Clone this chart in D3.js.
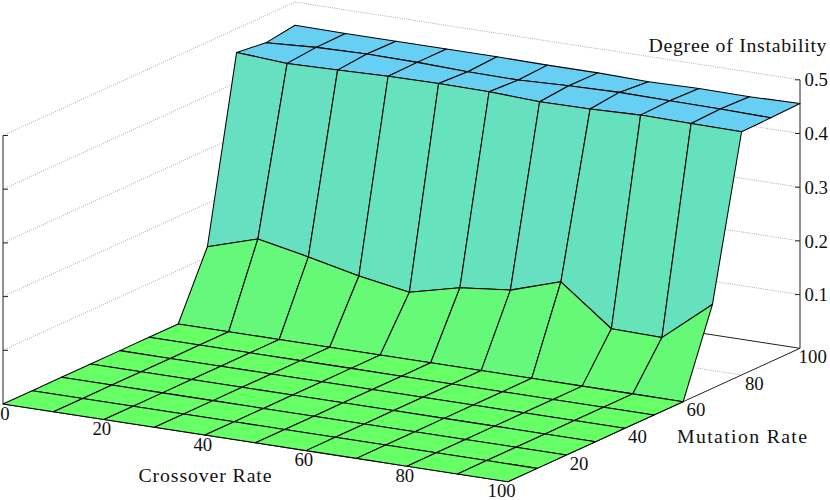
<!DOCTYPE html>
<html>
<head>
<meta charset="utf-8">
<style>
  body { margin: 0; background: #fff; }
  svg { display: block; }
  text { font-family: "Liberation Serif", serif; font-size: 18.8px; fill: #111; }
  text.title { font-size: 19.8px; }
</style>
<script src="https://cdn.jsdelivr.net/npm/d3@7"></script>
</head>
<body>
<div id="graph"></div>
<script>
const crossoverRates = [0, 10, 20, 30, 40, 50, 60, 70, 80, 90, 100];
const mutationRates = [0, 10, 20, 30, 40, 50, 60, 70, 80, 90, 100];

// one row per mutation rate
const row0 = [0, 0, 0, 0, 0, 0, 0, 0, 0, 0, 0];
const row10 = [0, 0, 0, 0, 0, 0, 0, 0, 0, 0, 0];
const row20 = [0, 0, 0, 0, 0, 0, 0, 0, 0, 0, 0];
const row30 = [0, 0, 0, 0, 0, 0, 0, 0, 0, 0, 0];
const row40 = [0, 0, 0, 0, 0, 0, 0, 0, 0, 0, 0];
const row50 = [0, 0, 0, 0, 0, 0, 0, 0, 0, 0, 0];
const row60 = [0, 0, 0, 0, 0, 0, 0, 0, 0, 0, 0];
const row70 = [.119, .148, .129, .108, .092, .115, .125, .155, .082, .080, .156];
const row80 = [.456, .450, .452, .455, .456, .455, .451, .452, .455, .454, .453];
const row90 = [.449, .455, .457, .456, .453, .452, .456, .458, .457, .456, .454];
const row100 = [.457, .456, .456, .456, .456, .455, .455, .453, .455, .454, .456];
const instability = [row0, row10, row20, row30, row40, row50, row60, row70, row80, row90, row100];

const xTicks = [0, 20, 40, 60, 80, 100];
const yTicks = [20, 40, 60, 80, 100];
const zTicks = [0.1, 0.2, 0.3, 0.4, 0.5];

const width = 830;
const height = 500;
const origin = { x: 3, y: 404 };

// screen offset of each data axis, the view is a fixed oblique one
const xToPx = d3.scaleLinear().domain([0, 100]).range([0, 505]);
const xToPy = d3.scaleLinear().domain([0, 100]).range([0, 77.7]);
const yToPx = d3.scaleLinear().domain([0, 100]).range([0, 292]);
const yToPy = d3.scaleLinear().domain([0, 100]).range([0, -133.4]);
const zToPy = d3.scaleLinear().domain([0, 0.5]).range([0, -268.5]);

const project = (x, y, z) => [
  origin.x + xToPx(x) + yToPx(y),
  origin.y + xToPy(x) + yToPy(y) + zToPy(z),
];

const color = d3.scaleLinear()
  .domain([0, 0.456])
  .range(["#66ff66", "#66cff3"])
  .interpolate(d3.interpolateRgb);

const line = d3.line();

const wrapper = d3.select("#graph")
  .append("svg")
  .attr("width", width)
  .attr("height", height);

// grid behind the surface
const grid = wrapper.append("g")
  .attr("fill", "none")
  .attr("stroke", "#999")
  .attr("stroke-width", 0.8)
  .attr("stroke-dasharray", "1 1.2");

grid.selectAll("path.wall")
  .data(zTicks)
  .enter()
  .append("path")
  .attr("class", "wall")
  .attr("d", z => line([project(0, 0, z), project(0, 100, z), project(100, 100, z)]));

grid.selectAll("path.floor")
  .data(yTicks.filter(y => y < 100))
  .enter()
  .append("path")
  .attr("class", "floor")
  .attr("d", y => line([project(0, y, 0), project(100, y, 0)]));

// axis lines
const axes = wrapper.append("g")
  .attr("fill", "none")
  .attr("stroke", "#222")
  .attr("stroke-width", 1);

axes.append("path").attr("d", line([project(0, 0, 0.5), project(0, 0, 0)]));
axes.append("path").attr("d", line([project(100, 100, 0.5), project(100, 100, 0)]));
axes.append("path").attr("d", line([project(0, 0, 0), project(100, 0, 0), project(100, 100, 0)]));
axes.append("path").attr("d", line([project(0, 100, 0), project(100, 100, 0)]));

axes.selectAll("path.tick-left")
  .data(zTicks)
  .enter()
  .append("path")
  .attr("class", "tick-left")
  .attr("d", z => {
    const p = project(0, 0, z);
    return line([p, [p[0] + 5, p[1]]]);
  });

axes.selectAll("path.tick-right")
  .data(zTicks)
  .enter()
  .append("path")
  .attr("class", "tick-right")
  .attr("d", z => {
    const p = project(100, 100, z);
    return line([p, [p[0] - 5, p[1]]]);
  });

// cells back to front
const cells = [];
d3.range(mutationRates.length - 2, -1, -1).forEach(j => {
  d3.range(0, crossoverRates.length - 1).forEach(i => {
    const corners = [[i, j], [i + 1, j], [i + 1, j + 1], [i, j + 1]];
    cells.push({
      points: corners.map(([a, b]) => project(crossoverRates[a], mutationRates[b], instability[b][a])),
      mean: d3.mean(corners, ([a, b]) => instability[b][a]),
    });
  });
});

wrapper.append("g")
  .selectAll("path")
  .data(cells)
  .enter()
  .append("path")
  .attr("d", d => line(d.points) + "Z")
  .attr("fill", d => color(d.mean))
  .attr("stroke", "#000")
  .attr("stroke-width", 1.05)
  .attr("stroke-linejoin", "round");

// tick labels
wrapper.append("g")
  .selectAll("text")
  .data(xTicks)
  .enter()
  .append("text")
  .attr("text-anchor", "middle")
  .attr("x", d => project(d, 0, 0)[0] + 6.2 - 4.2 * String(d).length)
  .attr("y", d => project(d, 0, 0)[1] + 15.6)
  .text(d => d);

wrapper.append("g")
  .selectAll("text")
  .data(yTicks)
  .enter()
  .append("text")
  .attr("text-anchor", "middle")
  .attr("x", d => project(100, d, 0)[0] + 12.7)
  .attr("y", d => project(100, d, 0)[1] + 14.6)
  .text(d => d);

wrapper.append("g")
  .selectAll("text")
  .data(zTicks)
  .enter()
  .append("text")
  .attr("x", d => project(100, 100, d)[0] + 4.5)
  .attr("y", d => project(100, 100, d)[1] + 6.6)
  .text(d => d3.format(".1f")(d));

// axis titles
const addTitle = (label, x, y, length) => wrapper.append("text")
  .attr("class", "title")
  .attr("x", x)
  .attr("y", y)
  .attr("textLength", length)
  .attr("lengthAdjust", "spacing")
  .text(label);

addTitle("Crossover Rate", 138.5, 481.7, 133);
addTitle("Mutation Rate", 677, 443.3, 130);
addTitle("Degree of Instability", 648.5, 51.7, 178);
</script>
</body>
</html>
